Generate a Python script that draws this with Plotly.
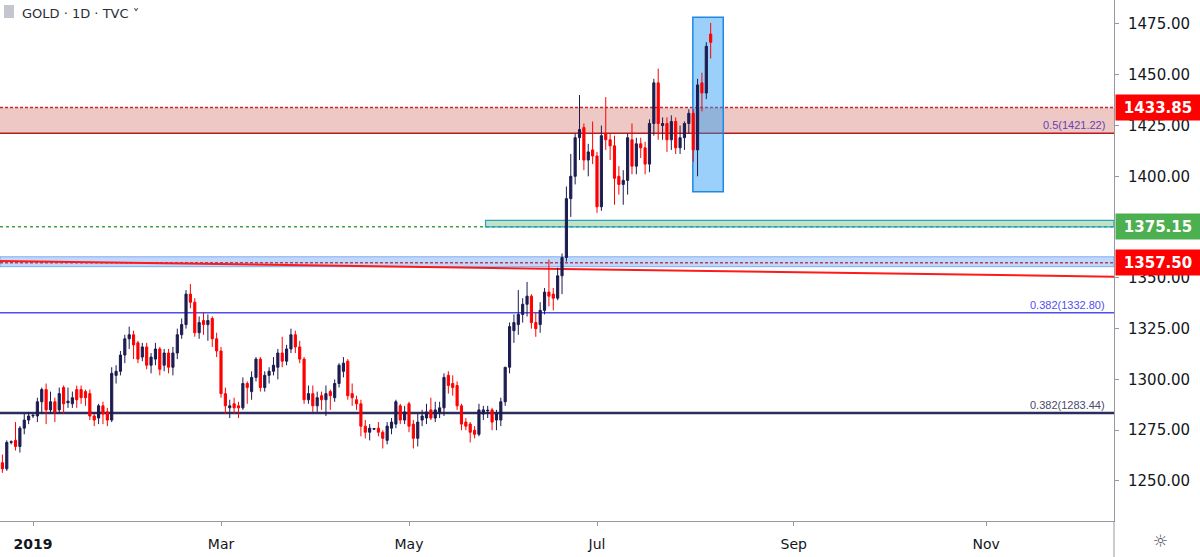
import pandas as pd
import plotly.graph_objects as go

# ---------------- data ----------------
dates = pd.bdate_range("2018-12-20", "2019-08-06")

opens = [
    # Dec 2018
    1257, 1259, 1256, 1269, 1270, 1267, 1276, 1280,
    # Jan
    1282, 1282, 1289, 1295, 1285, 1289, 1285, 1296, 1288.5, 1288, 1295, 1295, 1294, 1293, 1282, 1281, 1287, 1284, 1280, 1302, 1304, 1312, 1320,
    # Feb
    1322, 1318, 1311, 1316, 1307, 1310, 1315, 1307, 1313, 1306, 1313, 1322, 1327, 1342, 1338, 1323, 1329, 1327, 1330, 1320,
    # Mar
    1314, 1293, 1286, 1288, 1287, 1286, 1298, 1294, 1301, 1310, 1296, 1302, 1304, 1306, 1313, 1309, 1315, 1322, 1316, 1310, 1290,
    # Apr
    1293, 1287, 1292, 1290, 1294, 1291, 1298, 1304, 1309, 1293, 1290, 1288, 1277, 1274, 1275.5, 1276, 1274, 1270, 1276, 1278, 1287, 1280,
    # May
    1288, 1278, 1271, 1280, 1281, 1285, 1281, 1284, 1286, 1302, 1298, 1297, 1287, 1279, 1278, 1275, 1273, 1283, 1284.5, 1285, 1280, 1280, 1289,
    # Jun
    1306, 1324, 1327, 1332, 1337, 1341, 1328, 1327, 1334, 1343, 1342, 1340, 1351, 1360, 1389, 1400, 1419, 1424, 1408, 1413,
    # Jul
    1410, 1385, 1421, 1418, 1415, 1400, 1396, 1398, 1418, 1405, 1416, 1414, 1406, 1426, 1446, 1425, 1426, 1418, 1427, 1414, 1419, 1426, 1431,
    # Aug
    1413, 1446, 1441, 1470,
]
highs = [
    1262, 1263, 1270, 1270, 1279, 1277, 1283, 1284,
    1283, 1291, 1296, 1298, 1294, 1291, 1296, 1297, 1296, 1294, 1297, 1297, 1295, 1295, 1283, 1288, 1289, 1286, 1306, 1307, 1314, 1322, 1326,
    1324, 1319, 1318, 1318, 1313, 1318, 1316, 1315, 1315, 1316, 1325, 1330, 1344, 1347, 1340, 1331, 1333, 1332, 1331, 1323,
    1316, 1296, 1290, 1291, 1289, 1301, 1299, 1304, 1311, 1311, 1304, 1306, 1311, 1315, 1321, 1317, 1325, 1324, 1319, 1311, 1297,
    1297, 1294, 1294, 1297, 1295, 1300, 1308, 1311, 1310, 1298, 1292, 1290, 1280, 1278, 1276, 1279, 1275, 1279, 1281, 1290, 1288, 1287,
    1289, 1280, 1283, 1285, 1288, 1291, 1289, 1289, 1303, 1304, 1302, 1299, 1288, 1281, 1279, 1277, 1288, 1287, 1287, 1286, 1285, 1291, 1306,
    1328, 1332, 1344, 1340, 1348, 1342, 1333, 1338, 1345, 1359, 1345, 1355, 1362, 1395, 1411, 1421, 1440, 1426, 1416, 1427,
    1412, 1425, 1439, 1421, 1420, 1405, 1403, 1421, 1426, 1419, 1419, 1417, 1428, 1448, 1453, 1429, 1429, 1430, 1429, 1425, 1427, 1433, 1433,
    1448, 1451, 1466, 1475.5,
]
lows = [
    1250, 1254, 1255, 1268, 1265, 1264, 1273, 1278,
    1281, 1279, 1283, 1278, 1283, 1279, 1283, 1283, 1286, 1286, 1286, 1288, 1287, 1280, 1277, 1278, 1278, 1277, 1279, 1298, 1302, 1308, 1315,
    1310, 1308, 1309, 1305, 1303, 1307, 1302, 1304, 1303, 1302, 1310, 1320, 1325, 1335, 1321, 1320, 1322, 1319, 1316, 1311,
    1291, 1283, 1281, 1283, 1281, 1285, 1288, 1290, 1299, 1294, 1294, 1298, 1302, 1300, 1306, 1307, 1313, 1313, 1308, 1288, 1288,
    1284, 1284, 1285, 1282, 1285, 1289, 1296, 1301, 1290, 1287, 1285, 1272, 1271, 1270, 1275, 1272, 1266, 1268, 1273, 1276, 1278, 1278,
    1274, 1266, 1267, 1277, 1278, 1280, 1279, 1281, 1282, 1293, 1292, 1285, 1275, 1275, 1269, 1271, 1272, 1280, 1281, 1275, 1275, 1277, 1287,
    1303, 1318, 1322, 1328, 1331, 1325, 1321, 1323, 1332, 1336, 1334, 1339, 1342, 1358, 1380, 1396, 1408, 1403, 1400, 1406,
    1382, 1383, 1413, 1408, 1386, 1391, 1386, 1391, 1401, 1401, 1409, 1401, 1402, 1420, 1418, 1418, 1412, 1413, 1411, 1411, 1413, 1421, 1407,
    1400, 1432, 1438, 1458,
]
closes = [
    1258, 1256, 1269, 1269.3, 1267, 1276, 1280, 1282,
    1282.3, 1289, 1295, 1285, 1289, 1284, 1293, 1288, 1289.3, 1291, 1290, 1291, 1291, 1282, 1280, 1287, 1283, 1280, 1303, 1304, 1312, 1320, 1322,
    1317, 1310, 1316, 1307, 1311, 1315, 1305, 1313, 1306, 1313, 1322, 1327, 1342, 1338, 1323, 1328, 1327, 1329, 1320, 1314,
    1293, 1287, 1287, 1286, 1286, 1298, 1296, 1301, 1310, 1296, 1302, 1304, 1307, 1313, 1309, 1315, 1322, 1316, 1310, 1290, 1293,
    1287, 1291, 1290, 1293, 1292, 1298, 1307, 1308, 1292, 1291, 1288, 1277, 1274, 1276, 1275.8, 1274, 1271, 1277, 1279, 1289, 1280, 1284,
    1277, 1271, 1279, 1282, 1284, 1281, 1285, 1286, 1301, 1297, 1296, 1287, 1278, 1277, 1274, 1273, 1285, 1285, 1284.8, 1279, 1283, 1289, 1306,
    1326, 1328, 1332, 1337, 1341, 1328, 1325, 1334, 1343, 1341, 1340, 1351, 1360, 1389, 1400, 1419, 1423, 1408, 1412, 1410,
    1385, 1420, 1418, 1415, 1399, 1396, 1398, 1419, 1405, 1416, 1414, 1406, 1426, 1446, 1426, 1426, 1418, 1427, 1414, 1419, 1426, 1431, 1413,
    1445, 1441, 1464, 1466,
]

for arr in (opens, highs, lows, closes):
    if len(arr) != len(dates):
        raise ValueError(f"length mismatch {len(arr)} vs {len(dates)}")

# price levels drawn on the chart
resistance_zone = [1421.22, 1433.85]
support_level = 1375.15
support_zone = [1375.15, 1378.3]
support_zone_start = "2019-05-24 12:00"
blue_zone = [1355.5, 1360.4]
blue_level = 1357.50
fib_levels = [1421.22, 1332.80, 1283.44]
fib_labels = ["0.5(1421.22)", "0.382(1332.80)", "0.382(1283.44)"]
trend_dates = ["2018-12-20 10:48", "2019-12-12 06:00"]
trend_prices = [1358.3, 1350.6]
box_dates = ["2019-07-30 22:00", "2019-08-08 21:00"]
box_prices = [1392.4, 1478.3]

x_tick_dates = ["2019-01-01", "2019-03-01", "2019-05-01", "2019-07-01", "2019-09-02", "2019-11-01"]
x_tick_text = ["<b>2019</b>", "Mar", "May", "Jul", "Sep", "Nov"]
# 1375.00 sits under the green price label in the reference, so it is not drawn
y_ticks = [1250, 1275, 1300, 1325, 1350, 1400, 1425, 1450, 1475]

x_range = ["2018-12-20 10:48", "2019-12-12 06:00"]
y_range = [1230.3, 1486.8]

# ---------------- figure ----------------
UP = "#1c1c50"
DOWN = "#ff0000"

fig = go.Figure()
fig.add_trace(go.Candlestick(
    x=dates, open=opens, high=highs, low=lows, close=closes,
    increasing=dict(line=dict(color=UP, width=1), fillcolor=UP),
    decreasing=dict(line=dict(color=DOWN, width=1), fillcolor=DOWN),
    whiskerwidth=0, hoverinfo="skip", showlegend=False,
))

shapes = []
# red resistance zone
shapes.append(dict(type="rect", xref="paper", yref="y", x0=0, x1=1,
                   y0=resistance_zone[0], y1=resistance_zone[1],
                   fillcolor="rgba(192,57,43,0.28)", line=dict(width=0), layer="below"))
shapes.append(dict(type="line", xref="paper", yref="y", x0=0, x1=1,
                   y0=resistance_zone[1], y1=resistance_zone[1],
                   line=dict(color="#c62828", width=1.5, dash="3px,2px"), layer="below"))
shapes.append(dict(type="line", xref="paper", yref="y", x0=0, x1=1,
                   y0=fib_levels[0], y1=fib_levels[0],
                   line=dict(color="#b71c1c", width=1.5), layer="below"))
# green support
shapes.append(dict(type="rect", xref="x", yref="y", x0=support_zone_start, x1=x_range[1],
                   y0=support_zone[0], y1=support_zone[1],
                   fillcolor="rgba(76,175,80,0.35)", line=dict(color="#29a0c8", width=1.2), layer="below"))
shapes.append(dict(type="line", xref="paper", yref="y", x0=0, x1=1,
                   y0=support_level, y1=support_level,
                   line=dict(color="#43a047", width=1.5, dash="3px,3px"), layer="below"))
# blue band with 1357.50
shapes.append(dict(type="rect", xref="paper", yref="y", x0=0, x1=1,
                   y0=blue_zone[0], y1=blue_zone[1],
                   fillcolor="rgba(66,133,244,0.32)", line=dict(color="rgba(66,133,244,0.6)", width=1), layer="below"))
shapes.append(dict(type="line", xref="paper", yref="y", x0=0, x1=1,
                   y0=blue_level, y1=blue_level,
                   line=dict(color="#b0405a", width=1.5, dash="3px,2px"), layer="below"))
# trend line
shapes.append(dict(type="line", xref="x", yref="y", x0=trend_dates[0], x1=trend_dates[1],
                   y0=trend_prices[0], y1=trend_prices[1],
                   line=dict(color="#ff1a1a", width=2), layer="below"))
# fib lines
shapes.append(dict(type="line", xref="paper", yref="y", x0=0, x1=1,
                   y0=fib_levels[1], y1=fib_levels[1],
                   line=dict(color="#4f4ff0", width=1.5), layer="below"))
shapes.append(dict(type="line", xref="paper", yref="y", x0=0, x1=1,
                   y0=fib_levels[2], y1=fib_levels[2],
                   line=dict(color="#2c2c5e", width=2.5), layer="below"))
# blue highlight box
shapes.append(dict(type="rect", xref="x", yref="y", x0=box_dates[0], x1=box_dates[1],
                   y0=box_prices[0], y1=box_prices[1],
                   fillcolor="rgba(33,150,243,0.45)", line=dict(color="#1e88e5", width=1.5), layer="below"))
# axis separator extension and legend icon
shapes.append(dict(type="line", xref="paper", yref="paper", x0=1, x1=1, y0=0, y1=-36 / 521,
                   line=dict(color="#9598a1", width=1)))
shapes.append(dict(type="rect", xref="paper", yref="paper", x0=4 / 1114, x1=14 / 1114,
                   y0=1 - 18 / 521, y1=1 - 5 / 521, fillcolor="#c4c6cf", line=dict(width=0)))

annotations = []
# fib labels
fib_colors = ["#6a3fb5", "#4f4ff0", "#4a4a6a"]
for lvl, txt, col in zip(fib_levels, fib_labels, fib_colors):
    annotations.append(dict(xref="paper", yref="y", x=1107 / 1114, y=lvl, text=txt,
                            xanchor="right", yanchor="bottom", yshift=0, showarrow=False,
                            font=dict(family="Liberation Sans", size=11, color=col)))
# right price labels
for lvl, col in [(resistance_zone[1], "#ff0000"), (support_level, "#4caf50"), (blue_level, "#ff0000")]:
    annotations.append(dict(xref="paper", yref="y", x=1, y=lvl, text=f"{lvl:.2f}",
                            xanchor="left", yanchor="middle", xshift=1, showarrow=False,
                            bgcolor=col, width=82, height=23, align="center",
                            font=dict(family="DejaVu Sans", size=15, color="white", weight="bold")))
# title
annotations.append(dict(xref="paper", yref="paper", x=20 / 1114, y=1, yshift=-4,
                        text="GOLD · 1D · TVC ˅", xanchor="left", yanchor="top", showarrow=False,
                        font=dict(family="DejaVu Sans", size=13, color="#2a2e39")))
# settings icon
annotations.append(dict(xref="paper", yref="paper", x=1160 / 1114, y=-20 / 521,
                        text="☼", xanchor="center", yanchor="middle", showarrow=False,
                        font=dict(family="DejaVu Sans", size=17, color="#50535e")))

fig.update_layout(
    width=1200, height=557,
    margin=dict(l=0, r=86, t=0, b=36),
    paper_bgcolor="white", plot_bgcolor="white",
    showlegend=False,
    font=dict(family="DejaVu Sans", color="#131722"),
    shapes=shapes, annotations=annotations,
    xaxis=dict(
        type="date", range=x_range,
        rangebreaks=[dict(bounds=["sat", "mon"])],
        rangeslider=dict(visible=False),
        tickvals=x_tick_dates, ticktext=x_tick_text,
        showgrid=False, zeroline=False,
        showline=True, linecolor="#9598a1", linewidth=1,
        ticks="outside", ticklen=4, tickcolor="#9598a1",
        tickfont=dict(size=14, color="#131722"),
        ticklabelstandoff=6,
        fixedrange=True,
    ),
    yaxis=dict(
        side="right", range=y_range,
        tickvals=y_ticks, tickformat=".2f",
        showgrid=False, zeroline=False,
        showline=True, linecolor="#9598a1", linewidth=1,
        ticks="outside", ticklen=4, tickcolor="#9598a1",
        tickfont=dict(size=15, color="#131722"),
        ticklabelstandoff=6,
        fixedrange=True,
    ),
)

fig.write_html("out.html", config={"displayModeBar": False})
